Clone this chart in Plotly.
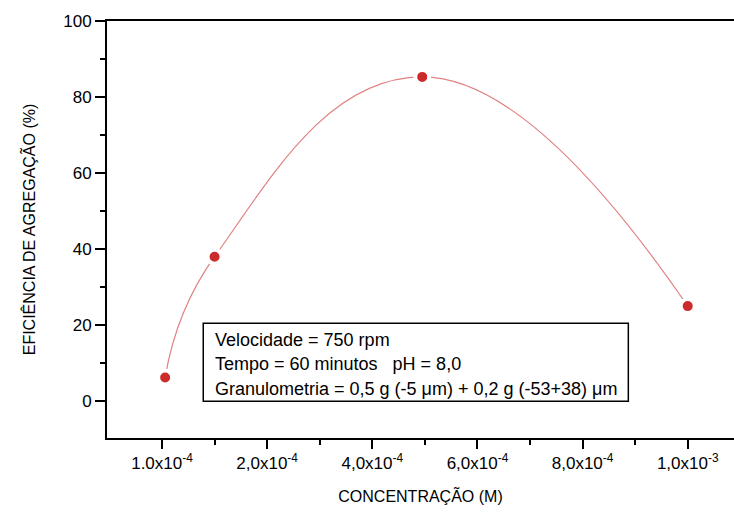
import plotly.graph_objects as go

# Data
concentracao = [6e-6, 1.0e-4, 4.95e-4, 1.0e-3]          # M
eficiencia = [6.2, 38.0, 85.3, 25.0]                    # %

x_tickvals = [0, 2e-4, 4e-4, 6e-4, 8e-4, 1e-3]
x_ticktext = ["1.0x10<sup>-4</sup>", "2,0x10<sup>-4</sup>", "4,0x10<sup>-4</sup>",
              "6,0x10<sup>-4</sup>", "8,0x10<sup>-4</sup>", "1,0x10<sup>-3</sup>"]
x_minor = [1e-4, 3e-4, 5e-4, 7e-4, 9e-4]
y_tickvals = [0, 20, 40, 60, 80, 100]
y_minor = [10, 30, 50, 70, 90]

info_lines = ["Velocidade = 750 rpm",
              "Tempo = 60 minutos   pH = 8,0",
              "Granulometria = 0,5 g (-5 \u03bcm) + 0,2 g (-53+38) \u03bcm"]

FONT = "Liberation Sans, Arial, sans-serif"

fig = go.Figure()
fig.add_trace(go.Scatter(
    x=concentracao, y=eficiencia, mode="lines+markers",
    line=dict(color="#e08080", width=1.2, shape="spline", smoothing=1.3),
    marker=dict(color="#cc2b2b", size=14, line=dict(color="white", width=4)),
    showlegend=False, cliponaxis=False))

# info box
fig.add_shape(type="rect", xref="x", yref="y", x0=0.785e-4, x1=8.87e-4, y0=0, y1=20.5,
              line=dict(color="black", width=1.5), fillcolor="rgba(0,0,0,0)")
line_y = [16.2, 9.8, 3.3]
for txt, yy in zip(info_lines, line_y):
    fig.add_annotation(x=0.975e-4, y=yy, xref="x", yref="y", text=txt, showarrow=False,
                       xanchor="left", yanchor="middle",
                       font=dict(family=FONT, size=18, color="black"))

fig.update_xaxes(range=[-1.046e-4, 10.88e-4], tickmode="array", tickvals=x_tickvals,
                 ticktext=x_ticktext, ticks="outside", ticklen=9, tickwidth=1.5,
                 tickcolor="black", showline=True, linecolor="black", linewidth=2,
                 mirror=True, showgrid=False, zeroline=False,
                 tickfont=dict(family=FONT, size=17, color="black"),
                 minor=dict(tickvals=x_minor, ticks="outside", ticklen=5, tickwidth=1.5,
                            tickcolor="black", showgrid=False),
                 title=dict(text="CONCENTRAÇÃO (M)", standoff=18,
                            font=dict(family=FONT, size=16, color="black")))
fig.update_yaxes(range=[-9.7, 100], tickmode="array", tickvals=y_tickvals,
                 ticks="outside", ticklen=10, tickwidth=1.5, tickcolor="black",
                 showline=True, linecolor="black", linewidth=2, showgrid=False,
                 zeroline=False,
                 tickfont=dict(family=FONT, size=17, color="black"),
                 minor=dict(tickvals=y_minor, ticks="outside", ticklen=5, tickwidth=1.5,
                            tickcolor="black", showgrid=False),
                 title=dict(text="EFICIÊNCIA DE AGREGAÇÃO (%)", standoff=24,
                            font=dict(family=FONT, size=16, color="black")))

fig.update_layout(width=734, height=514, margin=dict(l=107, r=0, t=21, b=76),
                  paper_bgcolor="white", plot_bgcolor="white")

fig.write_html("out.html")
